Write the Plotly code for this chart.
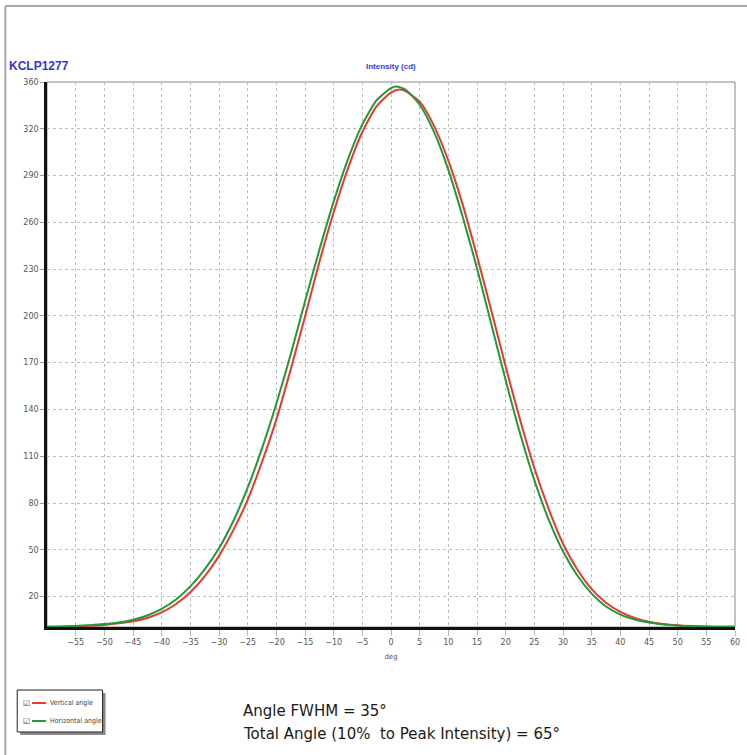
import plotly.graph_objects as go

# ---- data ----
vertical_x = [-60, -57.5, -55, -52.5, -50, -47.5, -45, -42.5, -40, -37.5, -35, -32.5, -30, -27.5, -25,
              -22.5, -20, -17.5, -15, -12.5, -10, -7.5, -5, -2.5, 0, 1.5, 2.5, 5, 7.5, 10, 12.5, 15,
              17.5, 20, 22.5, 25, 27.5, 30, 32.5, 35, 37.5, 40, 42.5, 45, 47.5, 50, 52.5, 55, 57.5, 60]
vertical_y = [0.1, 0.2, 0.4, 0.8, 1.4, 2.4, 3.8, 6.0, 9.6, 15.2, 23.0, 33.5, 47.0, 64.0, 84.0,
              109.0, 137.0, 170.0, 205.0, 241.0, 274.0, 303.0, 327.0, 344.0, 353.0, 355.0, 354.0, 347.0,
              331.0, 308.0, 279.0, 245.0, 209.0, 172.0, 137.0, 105.0, 78.0, 55.0, 38.0, 25.0, 16.0,
              10.0, 6.0, 3.5, 2.0, 1.1, 0.6, 0.3, 0.2, 0.1]

horizontal_x = [-60, -57.5, -55, -52.5, -50, -47.5, -45, -42.5, -40, -37.5, -35, -32.5, -30, -27.5, -25,
                -22.5, -20, -17.5, -15, -12.5, -10, -7.5, -5, -2.5, 0, 1, 2.5, 5, 7.5, 10, 12.5, 15,
                17.5, 20, 22.5, 25, 27.5, 30, 32.5, 35, 37.5, 40, 42.5, 45, 47.5, 50, 52.5, 55, 57.5, 60]
horizontal_y = [0.2, 0.4, 0.7, 1.2, 1.9, 3.0, 4.8, 7.6, 11.9, 18.2, 26.8, 38.0, 52.0, 70.0, 92.0,
                118.0, 147.5, 180.0, 215.0, 249.0, 281.0, 309.0, 332.0, 348.0, 356.0, 357.0, 355.0, 345.0,
                327.0, 302.0, 271.0, 237.0, 200.0, 163.0, 128.0, 97.0, 71.0, 50.0, 34.0, 22.0, 13.5,
                8.2, 4.9, 2.9, 1.6, 0.9, 0.5, 0.3, 0.2, 0.1]

x_tick_vals = [-55, -50, -45, -40, -35, -30, -25, -20, -15, -10, -5, 0, 5, 10, 15, 20, 25, 30, 35, 40, 45, 50, 55, 60]
y_tick_vals = [360, 329.1, 298.2, 267.3, 236.4, 205.5, 174.6, 143.7, 112.8, 81.9, 51.0, 20.1]
y_tick_text = ["360", "320", "290", "260", "230", "200", "170", "140", "110", "80", "50", "20"]

series_names = ["Vertical angle", "Horizontal angle"]
series_colors = ["#e8392f", "#1e9a3a"]

W, H = 747, 755
L, R, T, B = 47, 740, 82, 627


def px(x):
    return (x - L) / (R - L)


def py(y):
    return (B - y) / (B - T)


fig = go.Figure()
fig.add_trace(go.Scatter(x=vertical_x, y=vertical_y, mode="lines", name=series_names[0],
                         line=dict(color=series_colors[0], width=2, shape="spline", smoothing=0.6)))
fig.add_trace(go.Scatter(x=horizontal_x, y=horizontal_y, mode="lines", name=series_names[1],
                         line=dict(color=series_colors[1], width=2, shape="spline", smoothing=0.6)))

tick_font = dict(family="DejaVu Sans", size=8, color="#555555")

fig.update_layout(
    width=W, height=H,
    margin=dict(l=L, r=W - R, t=T, b=H - B),
    paper_bgcolor="white", plot_bgcolor="white",
    showlegend=False,
    xaxis=dict(range=[-60, 60], tickvals=x_tick_vals, tickfont=tick_font,
               showgrid=True, gridcolor="#bdbdbd", griddash="dot", gridwidth=1,
               showline=True, linecolor="#111111", linewidth=2.5,
               ticks="outside", ticklen=6, tickcolor="#bbbbbb", zeroline=False,
               title=dict(text="deg", font=dict(family="DejaVu Sans", size=7, color="#555555"), standoff=8)),
    yaxis=dict(range=[0, 360], tickvals=y_tick_vals, ticktext=y_tick_text, tickfont=tick_font,
               showgrid=True, gridcolor="#bdbdbd", griddash="dot", gridwidth=1,
               showline=True, linecolor="#111111", linewidth=2.5,
               ticks="outside", ticklen=4, tickcolor="#999999", zeroline=False),
)

shapes = [
    # plot frame (thin grey, top/right)
    dict(type="rect", xref="paper", yref="paper", x0=0, y0=0, x1=1, y1=1,
         line=dict(color="#888888", width=1), layer="below"),
    # outer frame
    dict(type="line", xref="paper", yref="paper", x0=px(5), y0=py(6), x1=px(5), y1=py(760),
         line=dict(color="#a8a8a8", width=2)),
    dict(type="line", xref="paper", yref="paper", x0=px(5), y0=py(6), x1=px(760), y1=py(6),
         line=dict(color="#a8a8a8", width=2)),
    # legend box shadow and box
    dict(type="rect", xref="paper", yref="paper", x0=px(20), y0=py(735), x1=px(106), y1=py(693),
         line=dict(width=0), fillcolor="#8a8a8a"),
    dict(type="rect", xref="paper", yref="paper", x0=px(17), y0=py(732), x1=px(103), y1=py(690),
         line=dict(color="#222222", width=1), fillcolor="white"),
    # legend keys
    dict(type="line", xref="paper", yref="paper", x0=px(32), y0=py(703), x1=px(46), y1=py(703),
         line=dict(color=series_colors[0], width=2)),
    dict(type="line", xref="paper", yref="paper", x0=px(32), y0=py(721), x1=px(46), y1=py(721),
         line=dict(color=series_colors[1], width=2)),
]
fig.update_layout(shapes=shapes)

ann = []
ann.append(dict(text="<b>KCLP1277</b>", xref="paper", yref="paper", x=px(7), y=py(66),
                xanchor="left", yanchor="middle", showarrow=False,
                font=dict(family="Liberation Sans", size=12, color="#3535c8")))
ann.append(dict(text="<b>Intensity (cd)</b>", xref="paper", yref="paper", x=px(394), y=py(66),
                xanchor="center", yanchor="middle", showarrow=False,
                font=dict(family="Liberation Sans", size=8, color="#3a3ad0")))
for yy, name in zip([703, 721], series_names):
    ann.append(dict(text="☑", xref="paper", yref="paper", x=px(21), y=py(yy),
                    xanchor="left", yanchor="middle", showarrow=False,
                    font=dict(family="DejaVu Sans", size=8, color="#444444")))
    ann.append(dict(text=name, xref="paper", yref="paper", x=px(48), y=py(yy),
                    xanchor="left", yanchor="middle", showarrow=False,
                    font=dict(family="DejaVu Sans Condensed", size=7, color="#444444")))
ann.append(dict(text="Angle FWHM = 35°", xref="paper", yref="paper", x=px(242), y=py(711),
                xanchor="left", yanchor="middle", showarrow=False,
                font=dict(family="DejaVu Sans", size=15, color="#1a1a1a")))
ann.append(dict(text="Total Angle (10%\u00a0 to Peak Intensity) = 65°", xref="paper", yref="paper",
                x=px(242), y=py(734), xanchor="left", yanchor="middle", showarrow=False,
                font=dict(family="DejaVu Sans", size=15, color="#1a1a1a")))
fig.update_layout(annotations=ann)

fig.write_html("out.html", config={"displayModeBar": False},
               post_script="document.body.style.margin='0';document.body.style.overflow='hidden';")
